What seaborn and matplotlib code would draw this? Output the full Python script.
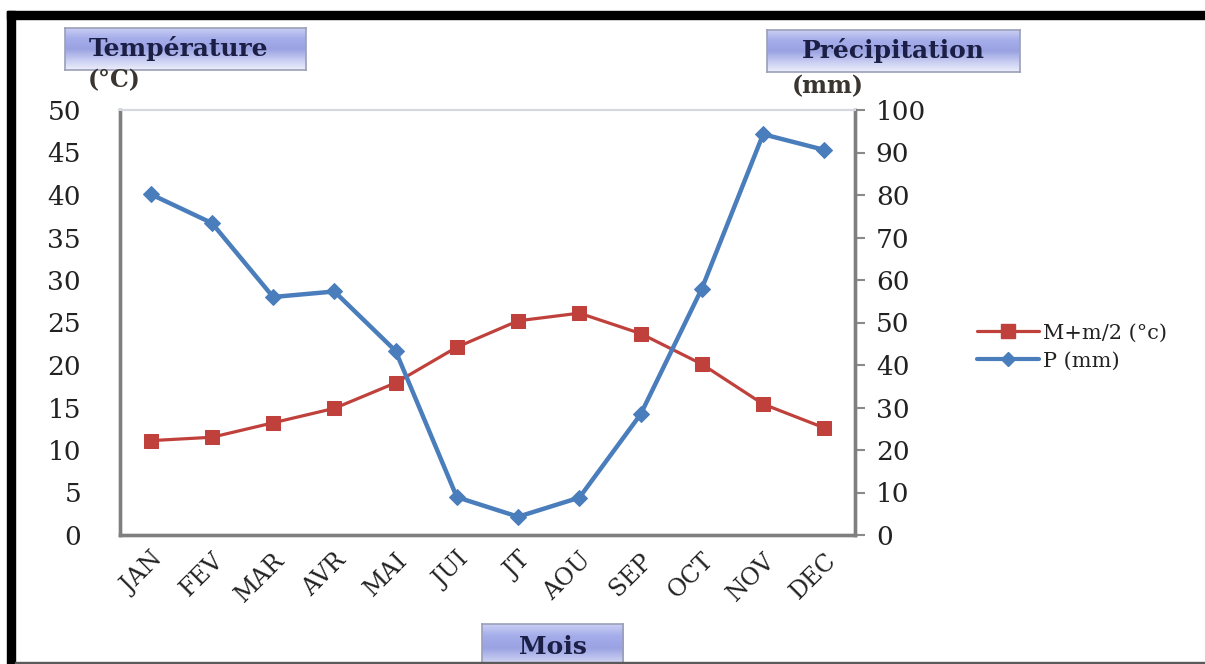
import numpy as np
import pandas as pd
import matplotlib
matplotlib.use("Agg")
import matplotlib.pyplot as plt
from matplotlib.patches import Rectangle
from matplotlib.lines import Line2D
from matplotlib.colors import LinearSegmentedColormap
import seaborn as sns

# Monthly climate data
months = ["JAN", "FEV", "MAR", "AVR", "MAI", "JUI", "JT", "AOU", "SEP", "OCT", "NOV", "DEC"]
temperature = [11.1, 11.5, 13.2, 14.9, 17.9, 22.1, 25.2, 26.1, 23.7, 20.1, 15.4, 12.6]
precipitation = [80.2, 73.4, 56.0, 57.3, 43.3, 8.9, 4.3, 8.8, 28.4, 58.0, 94.3, 90.6]
temp_ticks = [0, 5, 10, 15, 20, 25, 30, 35, 40, 45, 50]
precip_ticks = [0, 10, 20, 30, 40, 50, 60, 70, 80, 90, 100]

sns.set_style("white")
plt.rcParams["font.family"] = ["DejaVu Serif"]

RED = "#c0413c"
BLUE = "#4a7dbb"
TXT = "#222222"

df = pd.DataFrame({"Mois": months, "T": temperature, "P": precipitation})

W, H = 1205, 664
fig = plt.figure(figsize=(W / 100, H / 100), dpi=100)
fig.patch.set_facecolor("white")

ax = fig.add_axes([120 / W, 1 - 535 / H, (855 - 120) / W, (535 - 110) / H])
ax2 = ax.twinx()

sns.lineplot(data=df, x="Mois", y="T", ax=ax, sort=False, color=RED,
             linewidth=2.3, marker="s", markersize=10.5, markeredgecolor=RED,
             markerfacecolor=RED)
sns.lineplot(data=df, x="Mois", y="P", ax=ax2, sort=False, color=BLUE,
             linewidth=3.2, marker="D", markersize=8.5, markeredgecolor=BLUE,
             markerfacecolor=BLUE)

ax.set_xlim(-0.5, len(months) - 0.5)
ax.set_ylim(0, 50)
ax2.set_ylim(0, 100)
ax.set_yticks(temp_ticks)
ax2.set_yticks(precip_ticks)
ax.set_xticks(range(len(months)))
ax.set_xticklabels(months, rotation=45, ha="right", va="top",
                   rotation_mode="anchor", fontsize=17, color=TXT)
ax.set_xlabel("")
ax.set_ylabel("")
ax2.set_ylabel("")
ax.tick_params(axis="y", length=0, labelsize=19, labelcolor=TXT, pad=28)
ax.tick_params(axis="x", length=0, pad=10)
ax2.tick_params(axis="y", length=7, width=1.5, color="#8a8a8a",
                labelsize=19, labelcolor=TXT, pad=8, direction="out")

for a in (ax, ax2):
    for side in ("left", "bottom", "right"):
        a.spines[side].set_color("#7f7f7f")
        a.spines[side].set_linewidth(2.4)
    a.spines["top"].set_color("#d4d8de")
    a.spines["top"].set_linewidth(1.5)
    a.grid(False)

# Legend to the right of the plot
handles = [
    Line2D([], [], color=RED, linewidth=2.3, marker="s", markersize=10),
    Line2D([], [], color=BLUE, linewidth=3.0, marker="D", markersize=7.5),
]
fig.legend(handles, ["M+m/2 (°c)", "P (mm)"], loc="center left",
           bbox_to_anchor=(958 / W, 1 - 347 / H), frameon=False,
           fontsize=15, labelcolor=TXT, handlelength=3.0, handletextpad=0.2,
           labelspacing=0.45)

# Gradient label boxes
grad = LinearSegmentedColormap.from_list(
    "lav", ["#c9cef3", "#a4acea", "#9aa2e2", "#c6cbf1", "#eceefb"])


def label_box(x0, y0, x1, y1, text, fs, tx=0.5):
    bax = fig.add_axes([x0 / W, 1 - y1 / H, (x1 - x0) / W, (y1 - y0) / H])
    g = np.linspace(0, 1, 64).reshape(-1, 1) * np.ones((1, 8))
    bax.imshow(g, cmap=grad, aspect="auto", extent=(0, 1, 0, 1), origin="upper")
    bax.set_xticks([])
    bax.set_yticks([])
    for s in bax.spines.values():
        s.set_color("#9a9fb8")
        s.set_linewidth(1.2)
    bax.text(tx, 0.52, text, ha="center", va="center", fontsize=fs,
             fontweight="bold", color="#1b1f45", transform=bax.transAxes)
    return bax


label_box(65, 28, 306, 70, "Température", 18, tx=0.47)
label_box(767, 30, 1020, 72, "Précipitation", 18)
label_box(482, 624, 623, 672, "Mois", 18)

fig.text(88 / W, 1 - 80 / H, "(°C)", ha="left", va="center", fontsize=17,
         fontweight="bold", color="#3a3530")
fig.text(828 / W, 1 - 86 / H, "(mm)", ha="center", va="center", fontsize=17,
         fontweight="bold", color="#3a3530")

# Frame bands around the figure
fig.patches.append(Rectangle((7 / W, 1 - 19 / H), 1 - 7 / W, 8 / H,
                             transform=fig.transFigure, color="black", zorder=10))
fig.patches.append(Rectangle((7 / W, 0), 8 / W, 1 - 11 / H,
                             transform=fig.transFigure, color="black", zorder=10))
fig.patches.append(Rectangle((15 / W, 0), 1 - 15 / W, 2.5 / H,
                             transform=fig.transFigure, color="#5a5a5a", zorder=10))

fig.savefig("out.png", dpi=100, facecolor="white")
